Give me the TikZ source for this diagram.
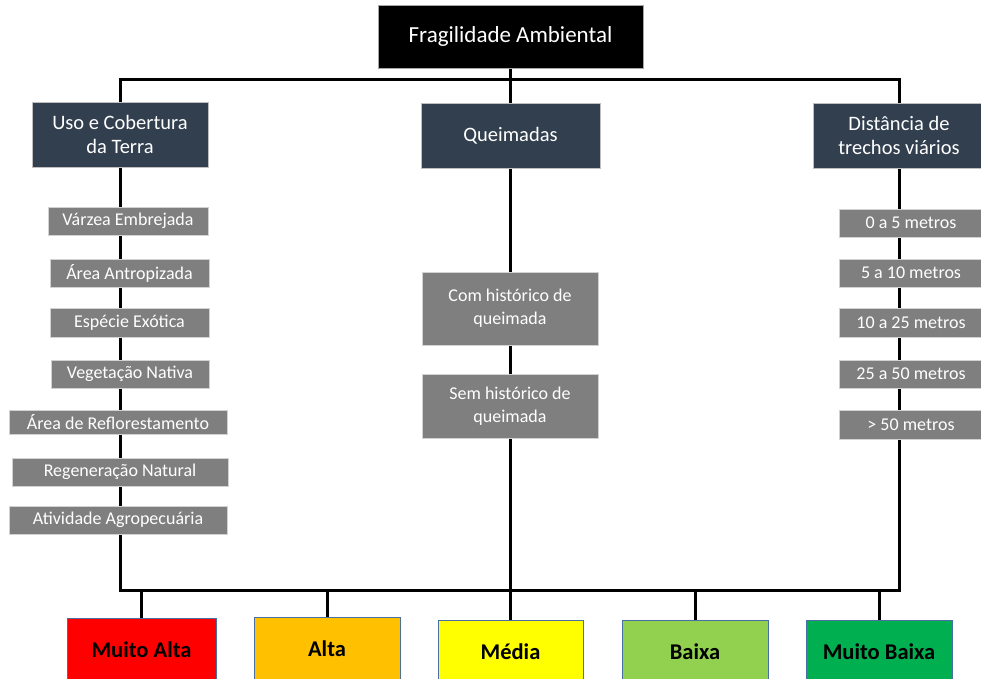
\documentclass[tikz,border=0pt]{standalone}
\usepackage{fontspec}
\setmainfont{Carlito}
\usetikzlibrary{backgrounds}
\definecolor{headblue}{HTML}{323F4F}
\definecolor{itemgray}{HTML}{7F7F7F}
\definecolor{levelborder}{HTML}{4A6FA5}
\definecolor{cRed}{HTML}{FF0000}
\definecolor{cOrange}{HTML}{FFC000}
\definecolor{cYellow}{HTML}{FFFF00}
\definecolor{cLight}{HTML}{92D050}
\definecolor{cGreen}{HTML}{00B050}
\begin{document}
\begin{tikzpicture}[x=1pt,y=-1pt,
  box/.style={inner sep=0pt, align=center},
  titlebox/.style={box, fill=black, draw=gray!70, line width=0.6pt, text=white,
    font=\fontsize{23}{26}\selectfont},
  headbox/.style={box, fill=headblue, draw=gray!50, line width=0.5pt, text=white,
    font=\fontsize{20.5}{24.5}\selectfont},
  itembox/.style={box, fill=itemgray, draw=gray!35, line width=0.5pt, text=white,
    font=\fontsize{18}{23}\selectfont},
  levelbox/.style={box, draw=levelborder, line width=0.9pt, text=black,
    font=\fontsize{22.5}{25}\selectfont\bfseries},
  conn/.style={draw=black, line width=3pt}
]
\useasboundingbox (0,0) rectangle (981,678);

% title
\node[titlebox, minimum width=265pt, minimum height=63pt] (top) at (510.5,36.5) {Fragilidade Ambiental};

% headers
\node[headbox, minimum width=176pt, minimum height=65pt] (uso) at (120,134.5) {Uso e Cobertura\\da Terra};
\node[headbox, minimum width=179pt, minimum height=65pt] (que) at (510.5,135.5) {Queimadas};
\node[headbox, minimum width=172pt, minimum height=65pt] (dis) at (899,135.5) {Distância de\\trechos viários};

% left items
\node[itembox, minimum width=160pt, minimum height=28pt] (u1) at (128,221) {Várzea Embrejada};
\node[itembox, minimum width=159pt, minimum height=28pt] (u2) at (129.5,273) {Área Antropizada};
\node[itembox, minimum width=159pt, minimum height=29pt] (u3) at (129.5,322.5) {Espécie Exótica};
\node[itembox, minimum width=158pt, minimum height=28pt] (u4) at (130,374) {Vegetação Nativa};
\node[itembox, minimum width=218pt, minimum height=24pt] (u5) at (118,422) {Área de Reflorestamento};
\node[itembox, minimum width=216pt, minimum height=28pt] (u6) at (120,472) {Regeneração Natural};
\node[itembox, minimum width=218pt, minimum height=28pt] (u7) at (118,520) {Atividade Agropecuária};

% middle items
\node[itembox, minimum width=176pt, minimum height=73pt] (q1) at (510,308.5) {Com histórico de\\queimada};
\node[itembox, minimum width=176pt, minimum height=64pt] (q2) at (510,406) {Sem histórico de\\queimada};

% right items
\node[itembox, minimum width=144pt, minimum height=28pt] (d1) at (911,223) {0 a 5 metros};
\node[itembox, minimum width=144pt, minimum height=28pt] (d2) at (911,273) {5 a 10 metros};
\node[itembox, minimum width=144pt, minimum height=29pt] (d3) at (911,323) {10 a 25 metros};
\node[itembox, minimum width=144pt, minimum height=28pt] (d4) at (911,374) {25 a 50 metros};
\node[itembox, minimum width=144pt, minimum height=29pt] (d5) at (911,425) {> 50 metros};

% levels
\node[levelbox, fill=cRed, minimum width=149pt, minimum height=64pt] (ma) at (141.5,650) {Muito Alta};
\node[levelbox, fill=cOrange, minimum width=146pt, minimum height=64pt] (al) at (327,649) {Alta};
\node[levelbox, fill=cYellow, minimum width=145pt, minimum height=64pt] (me) at (510.5,652) {Média};
\node[levelbox, fill=cLight, minimum width=146pt, minimum height=64pt] (ba) at (695,652) {Baixa};
\node[levelbox, fill=cGreen, minimum width=146pt, minimum height=64pt] (mb) at (879,652) {Muito Baixa};

\coordinate (tl) at (121,79);
\coordinate (tr) at (900,79);
\coordinate (bl) at (121,590);
\coordinate (br) at (900,590);

\begin{scope}[on background layer]
  \draw[conn] (top.south) -- (me.north);
  \draw[conn] (uso.north) -- (uso.north |- tl) -- (dis.north |- tr) -- (dis.north);
  \draw[conn] (uso.south) -- (uso.south |- bl) -- (dis.south |- br) -- (dis.south);
  \draw[conn] (ma.north) -- (ma.north |- bl);
  \draw[conn] (al.north) -- (al.north |- bl);
  \draw[conn] (ba.north) -- (ba.north |- bl);
  \draw[conn] (mb.north) -- (mb.north |- bl);
\end{scope}
\end{tikzpicture}
\end{document}
